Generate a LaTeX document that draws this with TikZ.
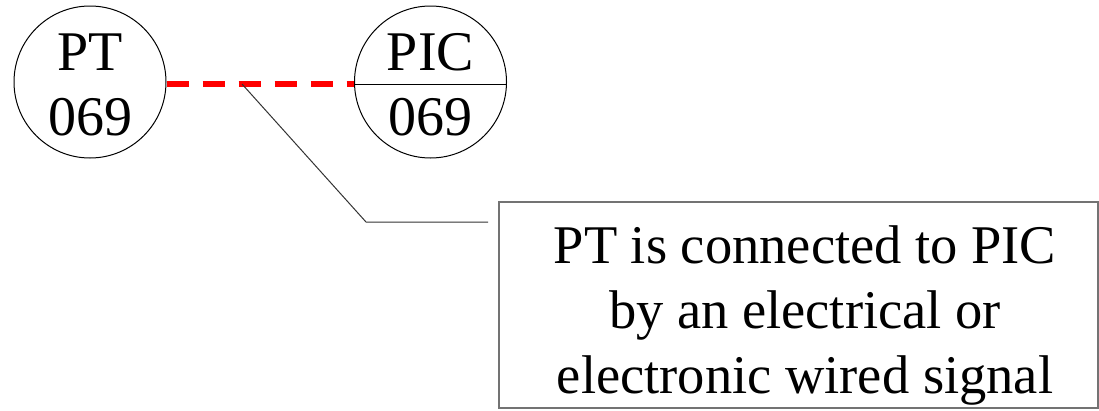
\documentclass[tikz,border=0pt]{standalone}
\usepackage{fontspec}
\setmainfont{Liberation Serif}
\begin{document}
\begin{tikzpicture}[x=1pt,y=-1pt,
  bubble/.style={circle,draw=black,line width=1pt,minimum size=152pt,inner sep=0pt},
  lbl/.style={font=\fontsize{56}{60}\selectfont,inner sep=0pt,anchor=base},
  signal/.style={draw=red,line width=6pt,dash pattern=on 22pt off 14pt},
  leader/.style={draw=black!80,line width=1pt},
  notebox/.style={draw=black!55,line width=1.5pt,minimum width=599pt,minimum height=206pt,inner sep=0pt},
  notetext/.style={align=center,inner sep=0pt,anchor=base,font=\fontsize{54.5}{65}\selectfont}]
\useasboundingbox (0,0) rectangle (1099,410);
\node[bubble] (pt) at (90,82) {};
\node[bubble] (pic) at (430.5,82) {};
\node[lbl] (ptA) at (90,70) {PT};
\node[lbl] (ptB) at (90,135) {069};
\node[lbl] (picA) at (430.5,70) {PIC};
\node[lbl] (picB) at (430.5,135) {069};
\draw[line width=1pt] (pic.west |- 0,84) -- (pic.east |- 0,84);
\coordinate (s1) at (pt.east |- 0,84);
\coordinate (s2) at (pic.west |- 0,84);
\path[signal] (s1) -- (s2);
\node[notebox] (note) at (798.5,305) {};
\node[notetext] (notetxt) at (805,393) {PT is connected to PIC\\by an electrical or\\electronic wired signal};
\coordinate (tap) at (242,84);
\coordinate (knee) at (366,222);
\coordinate (tail) at (488,222);
\path[leader] (tap) -- (knee) -- (tail);
\end{tikzpicture}
\end{document}
